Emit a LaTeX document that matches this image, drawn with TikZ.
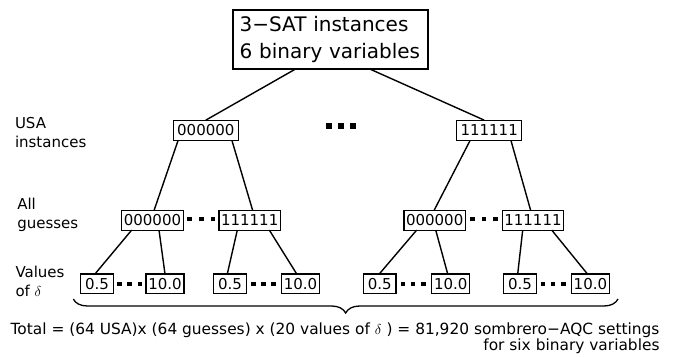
\documentclass[tikz,border=0pt]{standalone}
\usepackage{fontspec}
\setmainfont{DejaVu Sans}
\usetikzlibrary{decorations.pathreplacing}
\newcommand{\mydots}[2]{\rule{#1}{#1}\hspace{#2}\rule{#1}{#1}\hspace{#2}\rule{#1}{#1}}
\begin{document}
\begin{tikzpicture}[x=1pt,y=-1pt,
  every node/.style={inner sep=0pt, outer sep=0pt},
  topbox/.style={draw, line width=1.8pt, minimum width=195pt, minimum height=59pt,
    text width=181pt, align=left, font=\fontsize{20}{27}\selectfont},
  usabox/.style={draw, line width=1.1pt, minimum width=65pt, minimum height=20.5pt,
    font=\fontsize{15}{18}\selectfont},
  guessbox/.style={draw, line width=1.1pt, minimum width=61.5pt, minimum height=19.5pt,
    font=\fontsize{15}{18}\selectfont},
  valbox/.style={draw, line width=1.1pt, minimum height=19.5pt,
    font=\fontsize{15}{18}\selectfont},
  smallval/.style={valbox, minimum width=32.5pt},
  bigval/.style={valbox, minimum width=38pt},
  edge/.style={line width=1.4pt},
  lbl/.style={anchor=west, align=left, font=\fontsize{15}{19}\selectfont},
]
\useasboundingbox (0,0) rectangle (676,356);

% top
\node[topbox] (top) at (330.2,39.7) {3−SAT instances\\6 binary variables};

% USA level
\node[usabox] (u0) at (205.8,130.4) {000000};
\node[usabox] (u1) at (489.2,130.4) {111111};
\node (du) at (341,126) {\mydots{6pt}{6pt}};

% guesses level
\node[guessbox] (g00) at (152.5,220.3) {000000};
\node[guessbox] (g01) at (249.7,220.3) {111111};
\node[guessbox] (g10) at (434.7,220.3) {000000};
\node[guessbox] (g11) at (533,220.3) {111111};
\node (dg0) at (201.3,219) {\mydots{4.5pt}{7.2pt}};
\node (dg1) at (484,219) {\mydots{4.5pt}{7.2pt}};

% values level
\node[smallval] (v000) at (97,283.7) {0.5};
\node[bigval]   (v001) at (165,283.7) {10.0};
\node[smallval] (v010) at (230,283.7) {0.5};
\node[bigval]   (v011) at (300.5,283.7) {10.0};
\node[smallval] (v100) at (379.7,283.7) {0.5};
\node[bigval]   (v101) at (450.7,283.7) {10.0};
\node[smallval] (v110) at (520,283.7) {0.5};
\node[bigval]   (v111) at (590.4,283.7) {10.0};
\node (dv00) at (129.7,284) {\mydots{4.5pt}{5.7pt}};
\node (dv01) at (263.5,284) {\mydots{4.5pt}{5.7pt}};
\node (dv10) at (413.2,284) {\mydots{4.5pt}{5.7pt}};
\node (dv11) at (553.2,284) {\mydots{4.5pt}{5.7pt}};

% connectors
\draw[edge] ([xshift=-35pt]top.south) -- ([xshift=0pt]u0.north);
\draw[edge] ([xshift=40pt]top.south) -- ([xshift=-5pt]u1.north);

\draw[edge] ([xshift=-27.8pt]u0.south) -- ([xshift=1.5pt]g00.north);
\draw[edge] ([xshift=26.2pt]u0.south) -- ([xshift=3pt]g01.north);
\draw[edge] ([xshift=-19.2pt]u1.south) -- ([xshift=-0.7pt]g10.north);
\draw[edge] ([xshift=21.8pt]u1.south) -- ([xshift=-2.3pt]g11.north);

\draw[edge] ([xshift=-20.8pt]g00.south) -- ([xshift=-2pt]v000.north);
\draw[edge] ([xshift=6.5pt]g00.south) -- ([xshift=0pt]v001.north);
\draw[edge] ([xshift=-12.4pt]g01.south) -- ([xshift=-2.7pt]v010.north);
\draw[edge] ([xshift=19.6pt]g01.south) -- ([xshift=-3.8pt]v011.north);
\draw[edge] ([xshift=-18pt]g10.south) -- ([xshift=-0.4pt]v100.north);
\draw[edge] ([xshift=1pt]g10.south) -- ([xshift=-3pt]v101.north);
\draw[edge] ([xshift=-10.3pt]g11.south) -- ([xshift=-2.3pt]v110.north);
\draw[edge] ([xshift=18.7pt]g11.south) -- ([xshift=-3pt]v111.north);

% brace
\coordinate (bl) at (73.3,299);
\coordinate (br) at (618,299);
\draw[line width=1.3pt, decorate, decoration={brace, mirror, amplitude=14pt}] (bl) -- (br);

% row labels
\node[lbl] (l1) at (15,133) {USA\\instances};
\node[lbl] (l2) at (17.3,215) {All\\guesses};
\node[lbl] (l3) at (15.5,281.7) {Values\\of $\delta$};

% total
\node[anchor=north east, align=right, font=\fontsize{15.4}{16}\selectfont] (tot) at (659.5,323)
  {Total = (64 USA)x (64 guesses) x (20 values of $\delta$ ) = 81,920 sombrero−AQC settings\\for six binary variables};
\end{tikzpicture}
\end{document}
